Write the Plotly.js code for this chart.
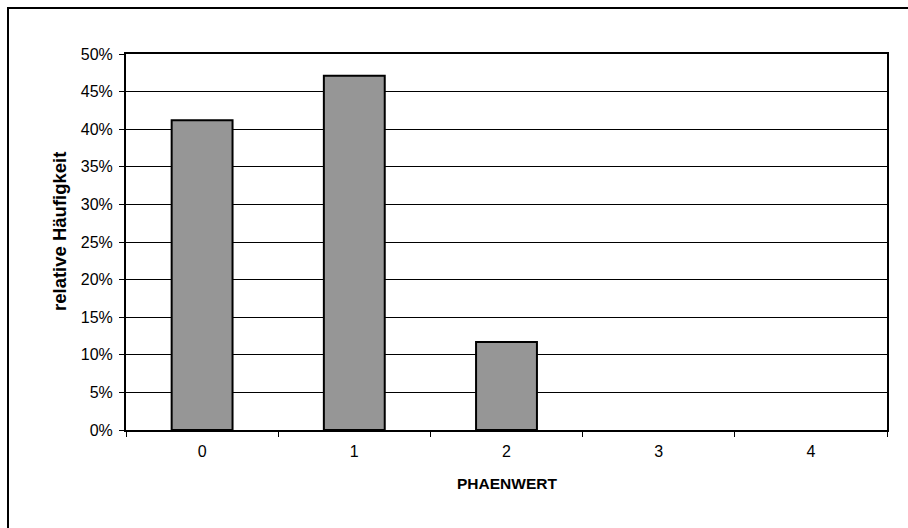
<!DOCTYPE html>
<html>
<head>
<meta charset="utf-8">
<script src="https://cdn.plot.ly/plotly-3.0.1.min.js"></script>
<style>
  html, body { margin: 0; padding: 0; background: #ffffff; }
  #chart { width: 908px; height: 528px; }
</style>
</head>
<body>
<div id="chart"></div>
<script>
// Phänwert-Verteilung: relative Häufigkeit je Wert
const categories = ['0', '1', '2', '3', '4'];
const shares = [0.412, 0.471, 0.117, 0, 0];
const xTitle = 'PHAENWERT';
const yTitle = 'relative Häufigkeit';

const W = 908, H = 528;
const margin = { l: 126, r: 21, t: 54, b: 98 };
const plotW = W - margin.l - margin.r;
const plotH = H - margin.t - margin.b;

// pixel position -> paper fraction
const px = x => (x - margin.l) / plotW;
const py = y => (H - margin.b - y) / plotH;

const trace = {
  type: 'bar',
  x: categories,
  y: shares,
  marker: {
    color: '#969696',
    line: { color: '#000000', width: shares.map(v => (v > 0 ? 2 : 0)) }
  },
  hoverinfo: 'skip'
};

const layout = {
  width: W,
  height: H,
  margin: margin,
  paper_bgcolor: 'rgba(0,0,0,0)',
  plot_bgcolor: '#ffffff',
  showlegend: false,
  bargap: 0.6,
  font: { family: 'Liberation Sans, Arial, sans-serif', size: 16, color: '#000000' },
  xaxis: {
    type: 'category',
    showgrid: false,
    showline: true,
    linecolor: '#000000',
    linewidth: 2,
    mirror: true,
    ticks: 'outside',
    tickson: 'boundaries',
    ticklen: 5,
    tickcolor: '#000000',
    tickwidth: 1,
    ticklabelstandoff: 6,
    zeroline: false
  },
  yaxis: {
    range: [0, 0.5],
    dtick: 0.05,
    tickformat: '.0%',
    showgrid: true,
    gridcolor: '#000000',
    gridwidth: 1,
    showline: true,
    linecolor: '#000000',
    linewidth: 2,
    mirror: true,
    ticks: 'outside',
    ticklen: 5,
    tickcolor: '#000000',
    tickwidth: 1,
    ticklabelstandoff: 3,
    zeroline: false
  },
  annotations: [
    {
      text: '<b>' + xTitle + '</b>',
      xref: 'paper', yref: 'paper',
      x: px(507), y: py(483),
      xanchor: 'center', yanchor: 'middle',
      showarrow: false,
      font: { size: 15.5 }
    },
    {
      text: '<b>' + yTitle + '</b>',
      xref: 'paper', yref: 'paper',
      x: px(59), y: py(232),
      xanchor: 'center', yanchor: 'middle',
      textangle: -90,
      showarrow: false,
      font: { size: 18.5 }
    }
  ],
  shapes: [
    {
      // chart frame, open to the lower right
      type: 'rect',
      xref: 'paper', yref: 'paper',
      x0: px(8),
      x1: px(W + 40),
      y0: py(H + 40),
      y1: py(8),
      line: { color: '#000000', width: 2 },
      layer: 'below'
    }
  ]
};

Plotly.newPlot('chart', [trace], layout, { displayModeBar: false, staticPlot: true });
</script>
</body>
</html>
